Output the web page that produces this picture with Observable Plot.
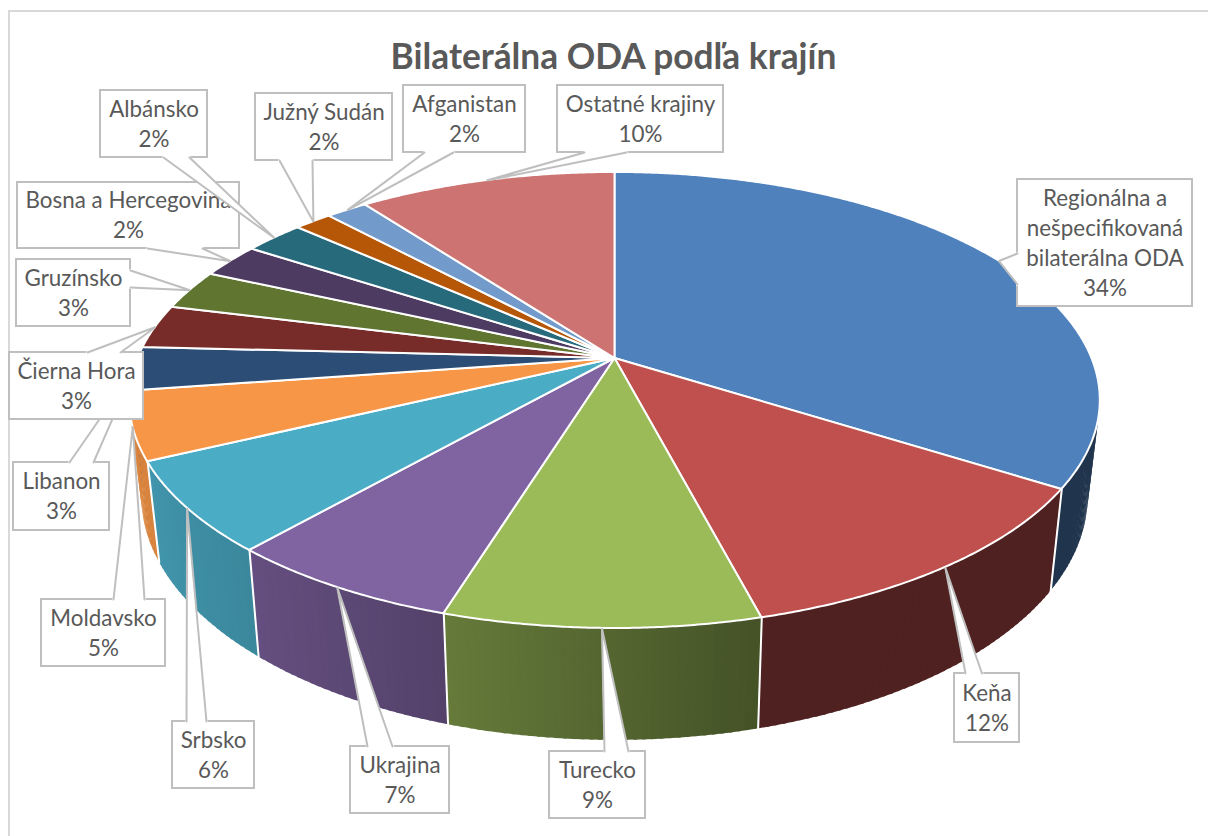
<!DOCTYPE html>
<html><head><meta charset="utf-8">
<script src="https://cdn.jsdelivr.net/npm/d3@7"></script>
<script src="https://cdn.jsdelivr.net/npm/@observablehq/plot@0.6"></script>
<style>html,body{margin:0;padding:0;background:#fff}svg{display:block}</style>
</head><body><div id="chart"></div>
<script>
const titleText = "Bilaterálna ODA podľa krajín";
const categories = ["Regionálna a\nnešpecifikovaná\nbilaterálna ODA","Keňa","Turecko","Ukrajina","Srbsko","Moldavsko","Libanon","Čierna Hora","Gruzínsko","Bosna a Hercegovina","Albánsko","Južný Sudán","Afganistan","Ostatné krajiny"];
const percentLabels = [34,12,9,7,6,5,3,3,3,2,2,2,2,10];
const shares = [34,11.93,8.85,6.7,6.42,4.8,3.1,3.1,2.85,2.45,2.4,1.5,1.65,10.25];
const colors = ["#4f81bd","#c0504d","#9bbb59","#8064a2","#4bacc6","#f79646","#2c4d75","#772c2a","#5f7530","#4d3b62","#276a7c","#b65708","#729aca","#cd7371"];

// Layout of the label boxes: [x1,y1,x2,y2, base A x,y, base B x,y]
const boxes = [
 [1017,179,1192,306, 1017,253, 1017,284],
 [954,673,1019,742, 965,673, 981.5,673],
 [549,751,645,818, 604,751, 628,751],
 [350,746,449,813, 367,746, 392,746],
 [172,721,254,788, 186,721, 206,721],
 [41,599,165,666, 113,599, 144,599],
 [13,462,109,530, 69,462, 93,462],
 [9,352,143,419, 87,352, 120,352],
 [16,259,130,326, 130,270, 130,287],
 [17,182,239,248, 147,248, 202,248],
 [100,90,207,157, 163,157, 189,157],
 [255,93,392,160, 279,160, 312,160],
 [403,85,525,152, 424,152, 453,152],
 [557,85,723,152, 584,152, 626,152]
];

const W = 1208, H = 836;
// Perspective of the pie disc
const apex = [614.5,358], A = 477, B = 220.3, K = 0.184;
const topPt = p => { const t = 2*Math.PI*p/100, yy = -Math.cos(t), w = 1-K*yy;
  return [apex[0]+A*Math.sin(t)/w, apex[1]+B*yy/w]; };
const botPt = p => { const [x,y] = topPt(p); return [apex[0]+0.975*(x-apex[0]), 451+1.07*(y-apex[1])]; };
const shade = d3.scaleLinear().domain([0,45.93,45.94,54.78,61.48,67.9,73,100]).range([.41,.41,.44,.66,.79,.87,.9,.9]).clamp(true);

const starts = d3.cumsum([0,...shares]);
const slices = shares.map((s,i)=>({i,from:starts[i],to:starts[i+1],mid:starts[i]+s/2,color:colors[i]}));

const darker = (c,f)=>{const r=d3.rgb(c);return d3.rgb(r.r*f,r.g*f,r.b*f).formatHex();};

// side wall strips, painted from the back of the disc towards the front
const wallRows = [];
d3.sort(slices,s=>-Math.abs(s.mid-50)).forEach(s=>{
  const n = Math.max(1,Math.ceil((s.to-s.from)/0.25));
  const order = s.mid<50 ? d3.range(n) : d3.range(n).reverse();
  order.forEach(j=>{
    const p0=s.from+(s.to-s.from)*j/n, p1=s.from+(s.to-s.from)*(j+1)/n;
    const c=darker(s.color,shade((p0+p1)/2));
    // each strip overlaps the one painted before it, so no seams appear
    const a0 = s.mid<50 ? Math.max(s.from,p0-0.1) : p0;
    const a1 = s.mid<50 ? p1 : Math.min(s.to,p1+0.1);
    [a0,a1].forEach(p=>{const a=topPt(p),b=botPt(p);
      wallRows.push({k:`${s.i}-${j}`,c,x1:a[0],y1:a[1],x2:b[0],y2:b[1]});});
  });
});
const sepRows = slices.filter(s=>s.from>30&&s.from<70).flatMap(s=>{const a=topPt(s.from),b=botPt(s.from);
  return [{k:s.i,x:a[0],y:a[1]},{k:s.i,x:b[0],y:b[1]}];});
// top faces
const faceRows = slices.flatMap(s=>{
  const n=Math.max(2,Math.ceil((s.to-s.from)/0.1));
  return d3.range(n+1).map(j=>{const q=topPt(s.from+(s.to-s.from)*j/n);
    return {k:s.i,c:s.color,x1:apex[0],y1:apex[1],x2:q[0],y2:q[1]};});
});

const FONT = "Lato, 'Open Sans', sans-serif";
const GREY = "#bfbfbf", INK = "#595959";

const callouts = slices.flatMap(s=>{
  const [x1,y1,x2,y2,ax,ay,bx,by]=boxes[s.i];
  const tip=topPt(s.mid);
  const label=`${categories[s.i]}\n${percentLabels[s.i]}%`;
  return [
    Plot.rect([{x1,y1,x2,y2}],{x1:"x1",y1:"y1",x2:"x2",y2:"y2",fill:"#fff",stroke:GREY,strokeWidth:2}),
    Plot.text([{x:(x1+x2)/2,y:(y1+y2)/2,label}],{x:"x",y:"y",dy:-2,text:"label",fontSize:22.4,lineHeight:1.34,fill:INK,fontFamily:FONT,textAnchor:"middle"}),
    Plot.area([{x1:ax,y1:ay,x2:bx,y2:by},{x1:tip[0],y1:tip[1],x2:tip[0],y2:tip[1]}],{x1:"x1",y1:"y1",x2:"x2",y2:"y2",fill:"#fff"}),
    Plot.line([{x:ax,y:ay},{x:bx,y:by}],{x:"x",y:"y",stroke:"#fff",strokeWidth:3}),
    Plot.line([{x:ax,y:ay},{x:tip[0],y:tip[1]},{x:bx,y:by}],{x:"x",y:"y",stroke:GREY,strokeWidth:2,strokeLinejoin:"miter"})
  ];
});

const chart = Plot.plot({
  width:W,height:H,margin:0,
  style:{background:"#fff"},
  x:{domain:[0,W],range:[0,W],axis:null},
  y:{domain:[0,H],range:[0,H],axis:null},
  color:{type:"identity"},
  marks:[
    Plot.rect([{x1:9,y1:11,x2:W+20,y2:H+20}],{x1:"x1",y1:"y1",x2:"x2",y2:"y2",fill:"none",stroke:"#d9d9d9",strokeWidth:2}),
    Plot.text([{x:613,y:57,t:titleText}],{x:"x",y:"y",text:"t",fontSize:35.3,fontWeight:700,fill:INK,fontFamily:FONT,textAnchor:"middle"}),
    Plot.area(wallRows,{x1:"x1",y1:"y1",x2:"x2",y2:"y2",z:"k",fill:"c"}),
    Plot.line(sepRows,{x:"x",y:"y",z:"k",stroke:"#fff",strokeWidth:2}),
    Plot.area(faceRows,{x1:"x1",y1:"y1",x2:"x2",y2:"y2",z:"k",fill:"c",stroke:"#fff",strokeWidth:2,strokeLinejoin:"round"}),
    ...callouts
  ]
});
document.getElementById("chart").appendChild(chart);
</script></body></html>
